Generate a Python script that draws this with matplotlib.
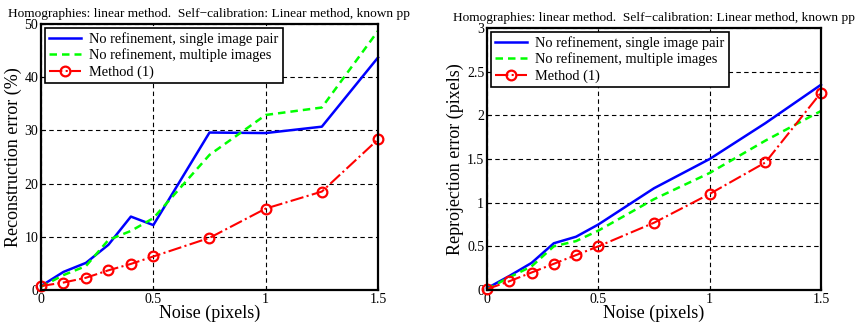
import matplotlib
matplotlib.use('Agg')
import matplotlib.pyplot as plt

noise = [0, 0.1, 0.2, 0.3, 0.4, 0.5, 0.75, 1.0, 1.25, 1.5]

rec_single = [0.75, 3.4, 5.1, 8.5, 13.8, 12.2, 29.6, 29.5, 30.7, 43.7]
rec_multi = [0.6, 2.8, 4.5, 9.4, 11.1, 13.5, 25.4, 32.9, 34.3, 48.7]
rec_method = [0.75, 1.4, 2.3, 3.7, 4.9, 6.3, 9.8, 15.3, 18.5, 28.3]

rep_single = [0.02, 0.16, 0.31, 0.535, 0.61, 0.75, 1.165, 1.50, 1.91, 2.35]
rep_multi = [0.01, 0.145, 0.27, 0.50, 0.56, 0.68, 1.04, 1.34, 1.71, 2.05]
rep_method = [0.01, 0.10, 0.20, 0.30, 0.40, 0.50, 0.77, 1.10, 1.46, 2.26]

labels = ['No refinement, single image pair',
          'No refinement, multiple images',
          'Method (1)']
title = 'Homographies: linear method.  Self\u2212calibration: Linear method, known pp'

plt.rcParams['font.family'] = ['Liberation Serif', 'DejaVu Serif']

W, H = 862, 334
fig = plt.figure(figsize=(W / 100, H / 100), dpi=100)


def panel(rect, ys, ylim, yticks, ytl, ylabel):
    x0, x1, ytop, ybot = rect
    ax = fig.add_axes([x0 / W, 1 - ybot / H, (x1 - x0) / W, (ybot - ytop) / H])
    a, b, c = ys
    ax.plot(noise, a, '-', color='#0000ff', lw=1.8, label=labels[0], clip_on=False)
    ax.plot(noise, b, '--', color='#00ff00', lw=1.8, dashes=(3, 2), label=labels[1],
            clip_on=False)
    ax.plot(noise, c, '-.', color='#ff0000', lw=1.5, marker='o', ms=7,
            mfc='none', mec='#ff0000', mew=1.6, label=labels[2], clip_on=False)
    ax.set_xlim(0, 1.5)
    ax.set_ylim(*ylim)
    ax.set_xticks([0, 0.5, 1, 1.5])
    ax.set_xticklabels(['0', '0.5', '1', '1.5'])
    ax.set_yticks(yticks)
    ax.set_yticklabels(ytl)
    ax.tick_params(direction='in', labelsize=10, length=3, pad=2)
    ax.grid(True, color='black', ls=(0, (4, 3)), lw=0.8)
    for s in ax.spines.values():
        s.set_linewidth(1.6)
    ax.set_xlabel('Noise (pixels)', fontsize=13, labelpad=-1)
    ax.set_ylabel(ylabel, fontsize=13, labelpad=2)
    ax.set_title(title, fontsize=9.6, pad=5)
    leg = ax.legend(loc='upper left', fontsize=10.4, fancybox=False,
                    framealpha=1, edgecolor='black', handlelength=2.2,
                    borderpad=0.3, labelspacing=0.2, handletextpad=0.6,
                    borderaxespad=0.25)
    leg.get_frame().set_linewidth(1.2)
    return ax


panel((41, 378, 24, 290), (rec_single, rec_multi, rec_method), (0, 50),
      [0, 10, 20, 30, 40, 50], ['0', '10', '20', '30', '40', '50'],
      'Reconstruction error (%)')
panel((487, 821, 28, 290), (rep_single, rep_multi, rep_method), (0, 3),
      [0, 0.5, 1, 1.5, 2, 2.5, 3], ['0', '0.5', '1', '1.5', '2', '2.5', '3'],
      'Reprojection error (pixels)')

fig.savefig('out.png', dpi=100)
